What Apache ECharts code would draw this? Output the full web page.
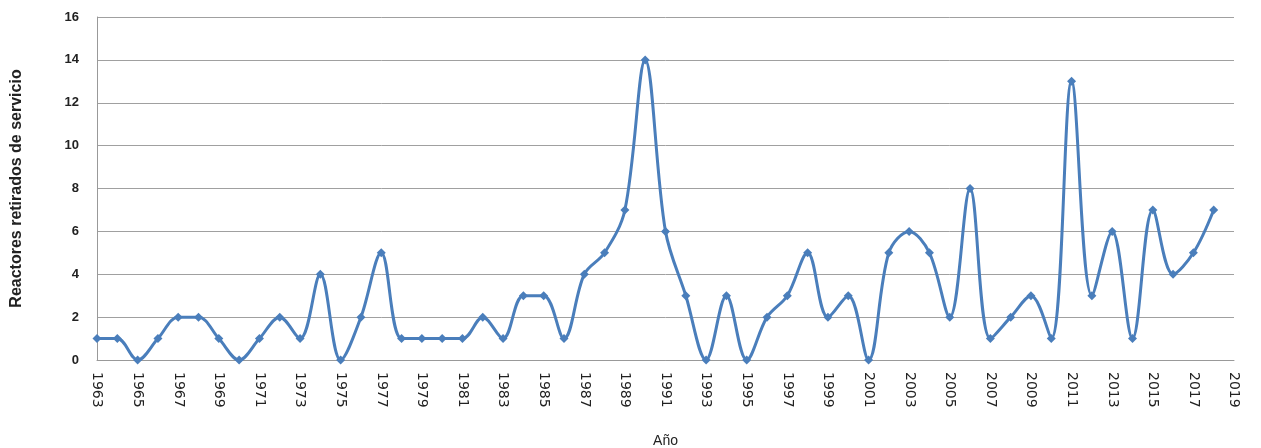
<!DOCTYPE html>
<html>
<head>
<meta charset="utf-8">
<script src="https://cdn.jsdelivr.net/npm/echarts@6/dist/echarts.min.js"></script>
<style>
html,body{margin:0;padding:0;background:#fff;}
#chart{width:1261px;height:448px;}
</style>
</head>
<body>
<div id="chart"></div>
<script>
var years = [];
for (var y = 1963; y <= 2019; y++) years.push(String(y));
var retired = [1,1,0,1,2,2,1,0,1,2,1,4,0,2,5,1,
  1,1,1,2,1,3,3,1,4,5,7,14,6,3,0,3,0,2,3,5,2,
  3,0,5,6,5,2,8,1,2,3,1,13,3,6,1,7,4,5,7];
var yTicks = [0,2,4,6,8,10,12,14,16];

var chart = echarts.init(document.getElementById('chart'));
chart.setOption({
  animation: false,
  backgroundColor: '#ffffff',
  grid: {left: 97, right: 27, top: 17, bottom: 88, containLabel: false, outerBoundsMode: 'none'},
  xAxis: {
    type: 'category',
    data: years,
    boundaryGap: false,
    name: 'Año',
    nameLocation: 'middle',
    nameGap: 74,
    nameTextStyle: {fontFamily: 'Liberation Sans', fontSize: 14, color: '#222'},
    axisLine: {lineStyle: {color: '#999'}},
    axisTick: {show: false},
    axisLabel: {
      rotate: -90, interval: 1, fontFamily: 'DejaVu Sans', fontSize: 14,
      color: '#222', margin: 12
    },
    splitLine: {show: false}
  },
  yAxis: {
    type: 'value',
    min: 0, max: 16, interval: 2,
    name: 'Reactores retirados de servicio',
    nameLocation: 'middle',
    nameGap: 72,
    nameTextStyle: {fontFamily: 'Liberation Sans', fontSize: 16, fontWeight: 'bold', color: '#222'},
    axisLine: {show: true, lineStyle: {color: '#999'}},
    axisTick: {show: false},
    axisLabel: {
      fontFamily: 'Liberation Sans', fontSize: 13, fontWeight: 'bold', color: '#222', margin: 18,
      formatter: function (v) { return yTicks.indexOf(v) >= 0 ? String(v) : ''; }
    },
    splitLine: {lineStyle: {color: '#a0a0a0', width: 1}}
  },
  series: [{
    type: 'line',
    data: retired,
    smooth: 0.35,
    symbol: 'diamond',
    symbolSize: 9,
    lineStyle: {color: '#4a7ebb', width: 3},
    itemStyle: {color: '#4a7ebb'}
  }]
});
</script>
</body>
</html>
